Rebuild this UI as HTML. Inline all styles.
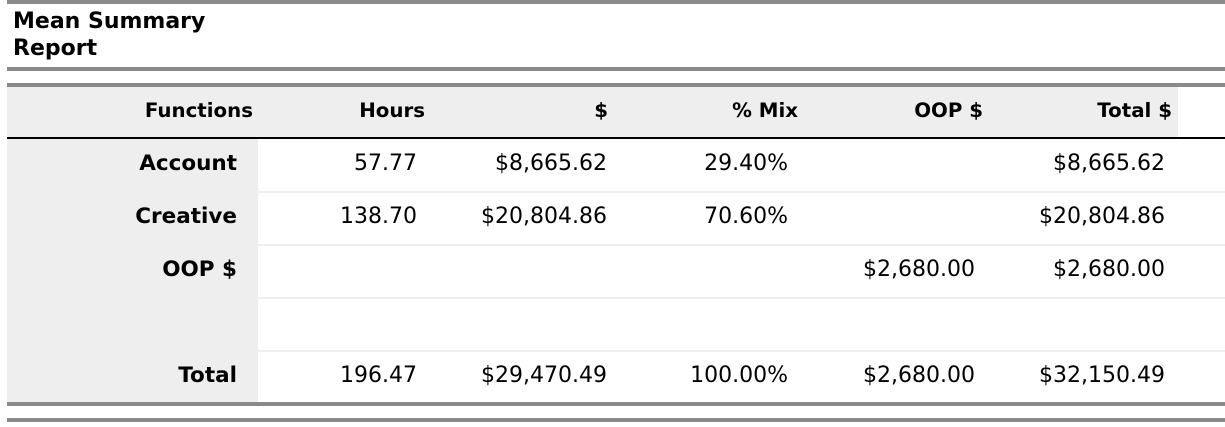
<!DOCTYPE html>
<html><head><meta charset="utf-8"><style>
body{margin:0;width:1225px;height:427px;background:#fff;position:relative;overflow:hidden;font-family:"DejaVu Sans","Liberation Sans",sans-serif;color:#000}
.bar{position:absolute;left:7px;right:0;height:4px;background:#8a8a8a}
.t{position:absolute;white-space:nowrap;text-align:right}
.h{font-weight:bold;font-size:19.8px;top:99px}
.c{font-size:22px}
.b{font-weight:bold;font-size:21.5px}
.sep{position:absolute;left:258px;right:0;height:2px;background:#eeeeee}
</style></head><body>
<div class="bar" style="top:0"></div>
<div style="position:absolute;left:13px;top:8px;font-weight:bold;font-size:22px;line-height:27px">Mean Summary<br>Report</div>
<div class="bar" style="top:67px"></div>
<div class="bar" style="top:83px"></div>
<div style="position:absolute;left:7px;top:87px;width:1171px;height:50px;background:#eeeeee"></div>
<div style="position:absolute;left:7px;right:0;top:137px;height:2px;background:#000"></div>
<div style="position:absolute;left:7px;top:139px;width:251px;height:264px;background:#eeeeee"></div>
<div class="sep" style="top:191px"></div>
<div class="sep" style="top:244px"></div>
<div class="sep" style="top:297px"></div>
<div class="sep" style="top:350px"></div>
<div class="bar" style="top:402px"></div>
<div class="bar" style="top:418px"></div>
<div id="tbl"></div>
<script>
const headers=["Functions","Hours","$","% Mix","OOP $","Total $"];
const rowLabels=["Account","Creative","OOP $","","Total"];
const hours=["57.77","138.70","","","196.47"];
const dollars=["$8,665.62","$20,804.86","","","$29,470.49"];
const mix=["29.40%","70.60%","","","100.00%"];
const oop=["","","$2,680.00","","$2,680.00"];
const totals=["$8,665.62","$20,804.86","$2,680.00","","$32,150.49"];
const headerRight=[253,425,608,798,983,1172];
const bodyRight=[237,417,607,788,975,1165];
const root=document.getElementById('tbl');
headers.forEach((h,i)=>{
  const d=document.createElement('div');
  d.className='t h';
  
  
  d.style.right=(1225-headerRight[i])+'px';
  d.textContent=h;root.appendChild(d);
});
const cols=[rowLabels,hours,dollars,mix,oop,totals];
for(let r=0;r<rowLabels.length;r++){
  cols.forEach((col,i)=>{
    if(!col[r])return;
    const d=document.createElement('div');
    d.className='t c'+(i===0?' b':'');
    
    
    d.style.right=(1225-bodyRight[i])+'px';
    d.style.top=(151+r*53)+'px';
    d.textContent=col[r];root.appendChild(d);
  });
}
</script>
</body></html>
